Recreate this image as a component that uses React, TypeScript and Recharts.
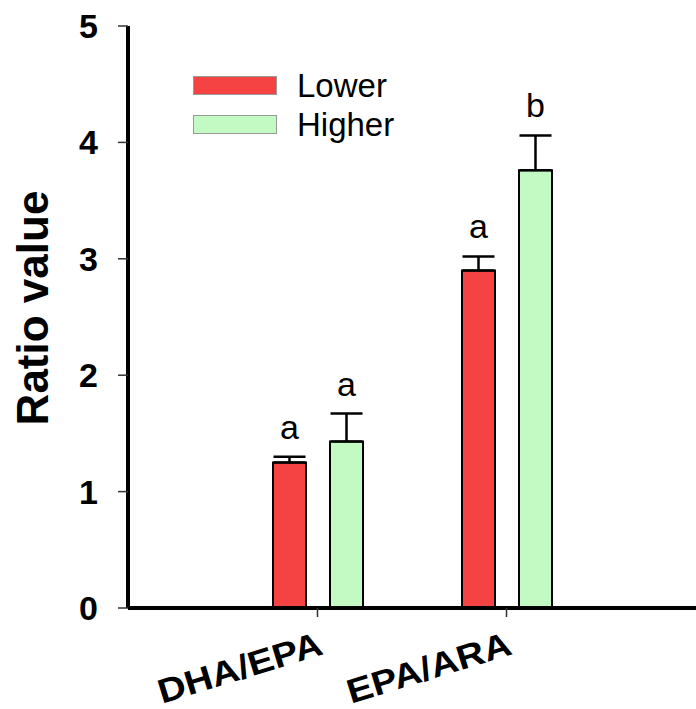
import React from 'react';
import { BarChart, Bar, XAxis, YAxis, ErrorBar, LabelList, Label } from 'recharts';

const categories = ['DHA/EPA', 'EPA/ARA'];
const lowerValues = [1.25, 2.9];
const lowerErrors = [0.05, 0.12];
const higherValues = [1.43, 3.76];
const higherErrors = [0.24, 0.3];
const lowerLetters = ['a', 'a'];
const higherLetters = ['a', 'b'];
const yTicks = [0, 1, 2, 3, 4, 5];
const seriesNames = ['Lower', 'Higher'];

const RED = '#F54343';
const GREEN = '#C3F9C3';
const FONT = '"Liberation Sans", Arial, sans-serif';

const data = categories.map((c, i) => ({
  name: c,
  lower: lowerValues[i],
  lowerErr: [0, lowerErrors[i]],
  lowerLetter: lowerLetters[i],
  higher: higherValues[i],
  higherErr: [0, higherErrors[i]],
  higherLetter: higherLetters[i],
}));

const makeLetter = (values: number[], errors: number[]) => (props: any) => {
  const { x, y, width, height, value, index } = props;
  const v = values[index];
  const pxPerUnit = v ? Number(height) / v : 0;
  const errTop = Number(y) - errors[index] * pxPerUnit;
  return (
    <text
      x={Number(x) + Number(width) / 2}
      y={errTop - 18}
      textAnchor="middle"
      fontFamily={FONT}
      fontSize={34}
      fill="#000"
    >
      {value}
    </text>
  );
};

const XTick = (props: any) => {
  const { x, y, payload } = props;
  const ax = Number(x) + 7;
  const ay = Number(y) + 35;
  return (
    <text
      x={ax}
      y={ay}
      textAnchor="end"
      transform={`rotate(-17 ${ax} ${ay})`}
      fontFamily={FONT}
      fontWeight="bold"
      fontSize={34}
      textLength={170}
      lengthAdjust="spacingAndGlyphs"
      fill="#000"
    >
      {payload.value}
    </text>
  );
};

export default function App() {
  return (
    <div style={{ position: 'absolute', left: 0, top: 0, width: 696, height: 709, background: '#fff' }}>
      <BarChart
        width={696}
        height={709}
        data={data}
        margin={{ top: 26, right: 0, bottom: 0, left: 0 }}
        barSize={33}
        barGap={24}
      >
        <XAxis
          dataKey="name"
          padding={{ left: 95, right: 95 }}
          axisLine={{ stroke: '#000', strokeWidth: 4 }}
          tickLine={{ stroke: '#333', strokeWidth: 1.5 }}
          tickSize={9}
          tick={<XTick />}
          interval={0}
          height={101}
        />
        <YAxis
          width={128}
          domain={[0, 5]}
          ticks={yTicks}
          axisLine={{ stroke: '#000', strokeWidth: 4 }}
          tickLine={{ stroke: '#333', strokeWidth: 1.5 }}
          tickSize={10}
          tickMargin={20}
          tick={{ fontFamily: FONT, fontWeight: 'bold', fontSize: 34, fill: '#000' }}
        >
          <Label
            content={() => (
              <text
                x={48}
                y={308}
                transform="rotate(-90 48 308)"
                textAnchor="middle"
                fontFamily={FONT}
                fontWeight="bold"
                fontSize={44}
                fill="#000"
              >
                Ratio value
              </text>
            )}
          />
        </YAxis>
        <Bar dataKey="lower" name={seriesNames[0]} fill={RED} stroke="#000" strokeWidth={2} isAnimationActive={false}>
          <ErrorBar dataKey="lowerErr" width={16} stroke="#000" strokeWidth={2.5} direction="y" />
          <LabelList dataKey="lowerLetter" content={makeLetter(lowerValues, lowerErrors)} />
        </Bar>
        <Bar dataKey="higher" name={seriesNames[1]} fill={GREEN} stroke="#000" strokeWidth={2} isAnimationActive={false}>
          <ErrorBar dataKey="higherErr" width={16} stroke="#000" strokeWidth={2.5} direction="y" />
          <LabelList dataKey="higherLetter" content={makeLetter(higherValues, higherErrors)} />
        </Bar>
      </BarChart>
      <div style={{ position: 'absolute', left: 193, top: 66, fontFamily: FONT, fontSize: 33, color: '#000' }}>
        {seriesNames.map((n, i) => (
          <div key={n} style={{ display: 'flex', alignItems: 'center', height: 39 }}>
            <div
              style={{
                width: 82,
                height: 17,
                background: i === 0 ? RED : GREEN,
                border: '1px solid #999',
                marginRight: 20,
              }}
            />
            <span style={{ lineHeight: '39px' }}>{n}</span>
          </div>
        ))}
      </div>
    </div>
  );
}
